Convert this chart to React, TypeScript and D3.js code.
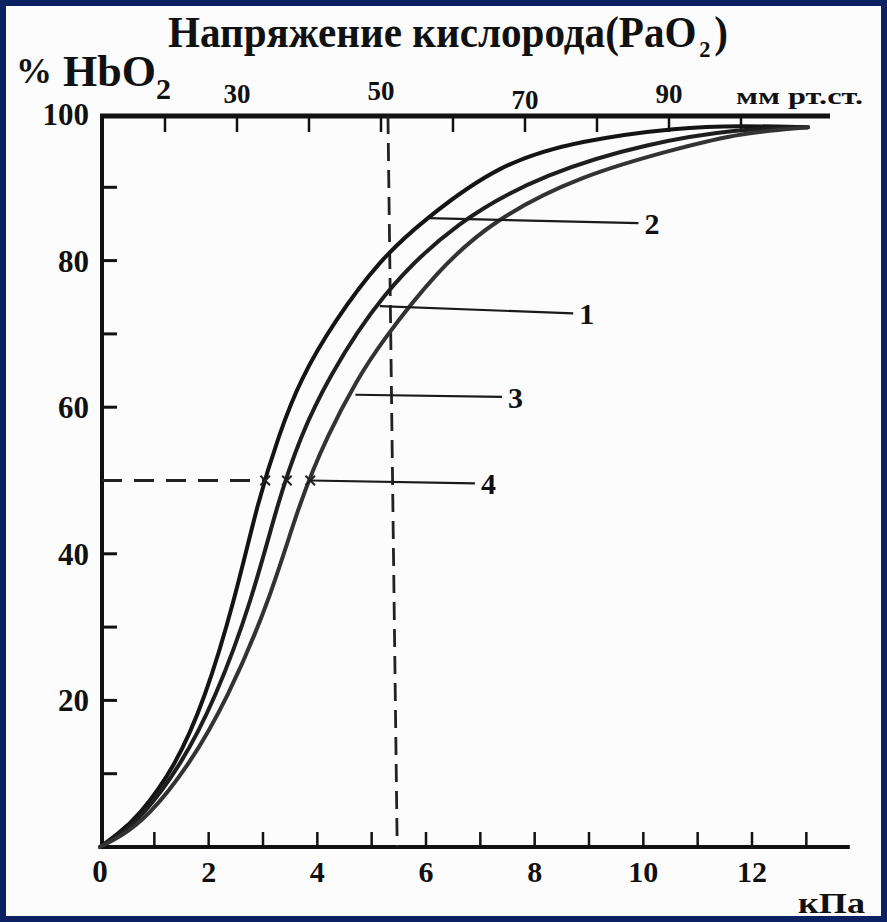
import React from "react";
import * as d3 from "d3";

// ---- data (kPa, % HbO2) ----
const curve2K = [0, 0.3, 0.7, 1.38, 1.93, 2.48, 2.91, 3.3, 3.68, 4.3, 5.15, 5.95, 7.36, 8.83, 10.68, 11.78, 13.03];
const curve2V = [0, 1.6, 4.1, 10.9, 20.1, 33.7, 47.3, 56.4, 63.7, 71.6, 80.1, 85.5, 93.3, 96.4, 98.2, 98.4, 98.2];

const curve1K = [0, 0.33, 0.77, 1.47, 2.12, 2.8, 3.28, 3.7, 4.18, 5.15, 6.57, 8.23, 10.07, 11.78, 13.03];
const curve1V = [0, 1.5, 4.1, 10.9, 20.1, 33.7, 47.3, 56.2, 63.7, 75.3, 85.5, 92.0, 96.0, 98.0, 98.2];

const curve3K = [0, 0.38, 0.88, 1.62, 2.34, 3.13, 3.68, 4.2, 4.73, 5.15, 6.2, 7.23, 8.83, 10.68, 11.78, 13.03];
const curve3V = [0, 1.4, 4.1, 10.9, 20.1, 33.7, 47.3, 56.4, 63.7, 68.6, 78.6, 85.5, 91.6, 95.4, 97.4, 98.2];

const p50K = [3.04, 3.44, 3.87];
const p50V = 50;

const yTicks = [10, 20, 30, 40, 50, 60, 70, 80, 90];
const yTickLabels = [0, 20, 40, 60, 80, 100];
const xTicks = [1, 2, 3, 4, 5, 6, 7, 8, 9, 10, 11, 12, 13];
const xTickLabels = [0, 2, 4, 6, 8, 10, 12];
const mmTicks = [20, 30, 40, 50, 60, 70, 80, 90, 100];
const mmTickLabels = [30, 50, 70, 90];

// annotation leaders
const leaderNames = ["2", "1", "3", "4"];
const leaderK0 = [6.04, 5.15, 4.7, 3.87];
const leaderV0 = [85.8, 73.8, 61.7, 50.0];
const leaderK1 = [9.91, 8.71, 7.4, 6.9];
const leaderV1 = [85.1, 72.8, 61.4, 49.6];

const FONT = "'Liberation Serif', 'Times New Roman', serif";

export default function App() {
  const W = 887, H = 922;
  const x = d3.scaleLinear().domain([0, 12]).range([100, 752]);
  const y = d3.scaleLinear().domain([0, 100]).range([847, 114]);
  const xmm = d3.scaleLinear().domain([20, 100]).range([165, 741]);

  const line = d3
    .line<[number, number]>()
    .x((d) => x(d[0]))
    .y((d) => y(d[1]))
    .curve(d3.curveBasis);

  const curves = [
    { k: curve2K, v: curve2V, color: "#141414" },
    { k: curve1K, v: curve1V, color: "#1e1e1e" },
    { k: curve3K, v: curve3V, color: "#333333" },
  ];

  const topY = 116;
  const axisX = x(0) + 2;
  const bottomY = y(0);
  const cross = d3.symbol().type(d3.symbolX).size(60)();
  const mmDy: Record<number, number> = { 30: 0, 50: -3, 70: 6, 90: 0 };

  return (
    <svg
      width={W}
      height={H}
      style={{ position: "absolute", left: 0, top: 0, display: "block" }}
      fontFamily={FONT}
      fontWeight="bold"
    >
      <rect x={0} y={0} width={W} height={H} fill="#0b2161" />
      <rect x={6} y={6} width={875} height={910} fill="#fcfcfc" />

      {/* title */}
      <g transform="translate(168,47) scale(0.935,1)">
        <text x={0} y={0} fontSize={44} fill="#111">
          Напряжение кислорода(PaO
          <tspan fontSize={24} dx={3} dy={10}>2</tspan>
          <tspan dx={4} dy={-10}>)</tspan>
        </text>
      </g>

      {/* % HbO2 */}
      <text x={16} y={86} fill="#111">
        <tspan fontSize={36} dy={-3}>%</tspan>
        <tspan fontSize={44} dy={3}> HbO</tspan>
        <tspan fontSize={30} dy={13}>2</tspan>
      </text>

      {/* top mm scale */}
      {mmTickLabels.map((t) => (
        <text key={t} x={xmm(t)} y={103 + (mmDy[t] || 0)} fontSize={27} textAnchor="middle" fill="#111">
          {t}
        </text>
      ))}
      <text x={736} y={104} fontSize={24} fill="#111" textLength={127} lengthAdjust="spacingAndGlyphs">
        мм рт.ст.
      </text>

      {/* axes */}
      <line x1={axisX} x2={axisX} y1={topY - 2} y2={bottomY + 2} stroke="#111" strokeWidth={4} />
      <line x1={axisX - 2} x2={830} y1={topY} y2={topY} stroke="#111" strokeWidth={5} />
      <line x1={axisX - 2} x2={x(13.8)} y1={bottomY} y2={bottomY} stroke="#111" strokeWidth={4} />

      {yTicks.map((t) => (
        <line key={"yt" + t} x1={axisX} x2={axisX + 15} y1={y(t)} y2={y(t)} stroke="#111" strokeWidth={3} />
      ))}
      {xTicks.map((t) => (
        <line key={"xt" + t} x1={x(t)} x2={x(t)} y1={bottomY} y2={bottomY - 15} stroke="#111" strokeWidth={2.5} />
      ))}
      {mmTicks.map((t) => (
        <line key={"mt" + t} x1={xmm(t)} x2={xmm(t)} y1={topY} y2={topY + 16} stroke="#111" strokeWidth={2.5} />
      ))}

      {yTickLabels.map((t) => (
        <text
          key={"yl" + t}
          x={t === 0 ? x(0) : 89}
          y={t === 0 ? 882 : y(t) + 11}
          fontSize={31}
          textAnchor={t === 0 ? "middle" : "end"}
          fill="#111"
        >
          {t}
        </text>
      ))}
      {xTickLabels
        .filter((t) => t !== 0)
        .map((t) => (
          <text key={"xl" + t} x={x(t)} y={882} fontSize={30} textAnchor="middle" fill="#111">
            {t}
          </text>
        ))}
      <text x={798} y={913} fontSize={30} fill="#111" textLength={67} lengthAdjust="spacingAndGlyphs">кПа</text>

      {/* dashed guides */}
      <line x1={x(5.3)} y1={topY} x2={x(5.47)} y2={bottomY} stroke="#222" strokeWidth={2.8} strokeDasharray="18 9" />
      <line x1={axisX} y1={y(p50V)} x2={x(p50K[0])} y2={y(p50V)} stroke="#222" strokeWidth={3} strokeDasharray="20 12" />

      {/* curves */}
      {curves.map((c, i) => (
        <path
          key={"c" + i}
          d={line(c.k.map((k, j) => [k, c.v[j]] as [number, number])) || ""}
          fill="none"
          stroke={c.color}
          strokeWidth={4}
          strokeLinecap="round"
        />
      ))}

      {/* P50 crosses */}
      {p50K.map((k, i) => (
        <path
          key={"x" + i}
          d={cross || ""}
          transform={`translate(${x(k)},${y(p50V)})`}
          fill="none"
          stroke="#222"
          strokeWidth={2}
        />
      ))}

      {/* leaders and labels */}
      {leaderNames.map((n, i) => (
        <g key={"ld" + n}>
          <line
            x1={x(leaderK0[i])}
            y1={y(leaderV0[i])}
            x2={x(leaderK1[i])}
            y2={y(leaderV1[i])}
            stroke="#1a1a1a"
            strokeWidth={2.2}
          />
          <text x={x(leaderK1[i]) + 6} y={y(leaderV1[i]) + 11} fontSize={30} fill="#111">
            {n}
          </text>
        </g>
      ))}
    </svg>
  );
}
